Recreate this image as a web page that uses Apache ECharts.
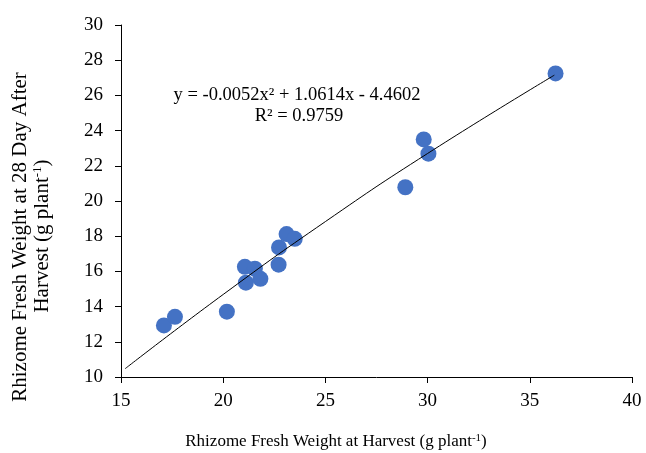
<!DOCTYPE html>
<html><head><meta charset="utf-8">
<script src="https://cdn.jsdelivr.net/npm/echarts@6/dist/echarts.min.js"></script>
<style>html,body{margin:0;padding:0;background:#fff}#c{width:646px;height:453px}</style>
</head><body><div id="c"></div>
<script>
const harvestWeight = [17.10, 17.64, 20.18, 21.06, 21.11, 21.55, 21.82, 22.73, 22.71, 23.10, 23.50, 28.91, 29.81, 30.04, 36.26];
const day28Weight   = [12.93, 13.42, 13.71, 16.26, 15.36, 16.15, 15.58, 17.36, 16.38, 18.12, 17.85, 20.78, 23.50, 22.69, 27.25];
const trendX = [15.2, 20, 25, 30, 36.2];
const trendY = [10.47, 14.69, 18.83, 22.70, 27.15];
const xTicks = [15, 20, 25, 30, 35, 40];
const yTicks = [10, 12, 14, 16, 18, 20, 22, 24, 26, 28, 30];

const font = '"Liberation Serif", "Times New Roman", serif';
const chart = echarts.init(document.getElementById('c'));
chart.setOption({
  animation: false,
  grid: {left: 121, right: 14, top: 25, bottom: 76},
  xAxis: {
    type: 'value', min: xTicks[0], max: xTicks[xTicks.length-1], interval: 5,
    axisLine: {lineStyle: {color: '#000', width: 1}},
    axisTick: {show: true, length: 6, lineStyle: {color: '#000'}},
    splitLine: {show: false},
    axisLabel: {color: '#000', fontFamily: font, fontSize: 19, margin: 15}
  },
  yAxis: {
    type: 'value', min: yTicks[0], max: yTicks[yTicks.length-1], interval: 2,
    axisLine: {show: true, lineStyle: {color: '#000', width: 1}},
    axisTick: {show: true, length: 6, lineStyle: {color: '#000'}},
    splitLine: {show: false},
    axisLabel: {color: '#000', fontFamily: font, fontSize: 19, margin: 18}
  },
  series: [
    {type: 'line', data: trendX.map((x,i)=>[x, trendY[i]]), smooth: true, showSymbol: false,
     lineStyle: {color: '#000', width: 1}, z: 3},
    {type: 'scatter', data: harvestWeight.map((x,i)=>[x, day28Weight[i]]), symbolSize: 16,
     itemStyle: {color: '#4472C4', opacity: 1}, z: 2}
  ],
  graphic: [
    {type: 'text', x: 297, y: 95, style: {
      text: 'y = -0.0052x² + 1.0614x - 4.4602', font: '18.5px ' + font, fill: '#000',
      textAlign: 'center', textVerticalAlign: 'middle'}},
    {type: 'text', x: 299, y: 116, style: {
      text: 'R² = 0.9759', font: '18.5px ' + font, fill: '#000',
      textAlign: 'center', textVerticalAlign: 'middle'}},
    {type: 'text', x: 336, y: 442, style: {
      text: '{a|Rhizome Fresh Weight at Harvest (g plant}{s|-1}{a|)}',
      rich: {a: {fontFamily: font, fontSize: 17, color: '#000'},
             s: {fontFamily: font, fontSize: 11, color: '#000', verticalAlign: 'top', padding: [0,0,7,0]}},
      textAlign: 'center', textVerticalAlign: 'middle'}},
    {type: 'text', x: 20, y: 237, rotation: Math.PI/2, style: {
      text: 'Rhizome Fresh Weight at 28 Day After', font: '21px ' + font, fill: '#000',
      textAlign: 'center', textVerticalAlign: 'middle'}},
    {type: 'text', x: 42, y: 236, rotation: Math.PI/2, style: {
      text: '{a|Harvest (g plant}{s|-1}{a|)}',
      rich: {a: {fontFamily: font, fontSize: 21, color: '#000'},
             s: {fontFamily: font, fontSize: 13, color: '#000', verticalAlign: 'top', padding: [0,0,8,0]}},
      textAlign: 'center', textVerticalAlign: 'middle'}}
  ]
});
</script></body></html>
